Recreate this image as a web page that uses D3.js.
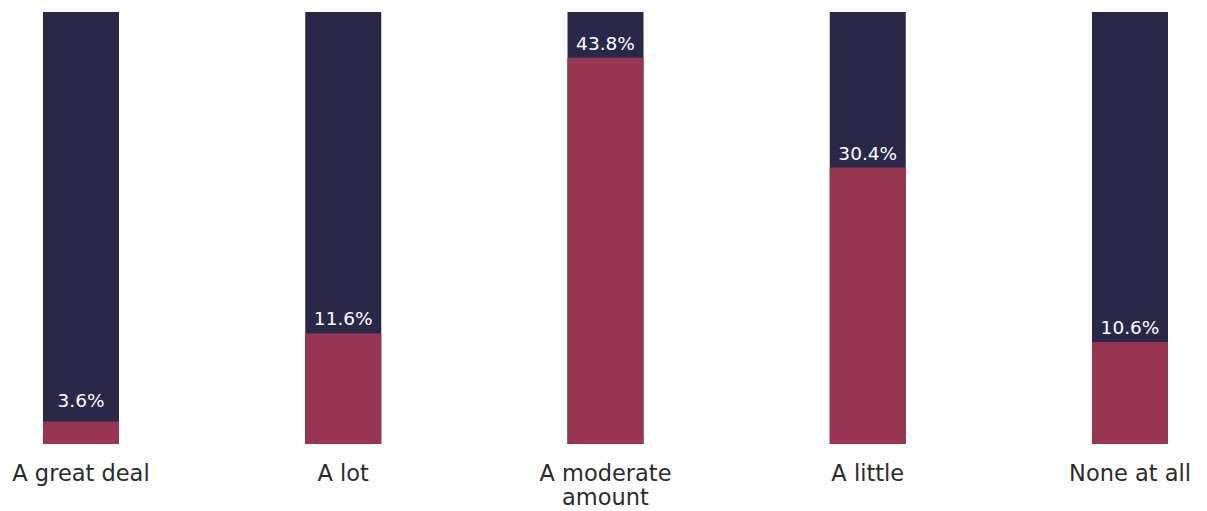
<!DOCTYPE html>
<html>
<head>
<meta charset="utf-8">
<script src="https://cdn.jsdelivr.net/npm/d3@7"></script>
<style>
  html, body { margin: 0; padding: 0; background: #ffffff; }
  svg { display: block; }
</style>
</head>
<body>
<svg id="chart" width="1207" height="511"></svg>
<script>
// ---- data ----
const categories = ["A great deal", "A lot", "A moderate amount", "A little", "None at all"];
const valueLabels = ["3.6%", "11.6%", "43.8%", "30.4%", "10.6%"];
// bar heights, on a 0–50 axis
const barValues = [2.6, 12.8, 44.7, 32.0, 11.8];
const axisMax = 50;

// ---- layout ----
const plotTop = 12, plotBottom = 444;
const barW = 76;
const navy = "#292848", crimson = "#983651";

const svg = d3.select("#chart");

const x = d3.scalePoint().domain(categories).range([81, 1130]);
const y = d3.scaleLinear().domain([0, axisMax]).range([plotBottom, plotTop]);

const g = svg.append("g");

// background bars
g.selectAll("rect.bg").data(categories).join("rect")
  .attr("class", "bg")
  .attr("x", d => x(d) - barW / 2)
  .attr("y", y(axisMax))
  .attr("width", barW)
  .attr("height", y(0) - y(axisMax))
  .attr("fill", navy);

// value bars
g.selectAll("rect.val").data(barValues).join("rect")
  .attr("class", "val")
  .attr("x", (d, i) => x(categories[i]) - barW / 2)
  .attr("y", d => y(d))
  .attr("width", barW)
  .attr("height", d => y(0) - y(d))
  .attr("fill", crimson);

// value labels
g.selectAll("text.vl").data(barValues).join("text")
  .attr("class", "vl")
  .attr("x", (d, i) => x(categories[i]))
  .attr("y", d => Math.min(y(d) - 8, plotBottom - 37))
  .attr("text-anchor", "middle")
  .attr("font-family", "'DejaVu Sans', sans-serif")
  .attr("font-size", 18.5)
  .attr("fill", "#ffffff")
  .text((d, i) => valueLabels[i]);

// category labels (wrap long ones)
const wrapMap = { "A moderate amount": ["A moderate", "amount"] };
const cl = g.selectAll("text.cl").data(categories).join("text")
  .attr("class", "cl")
  .attr("x", d => x(d))
  .attr("y", 481)
  .attr("text-anchor", "middle")
  .attr("font-family", "'DejaVu Sans', sans-serif")
  .attr("font-size", 22.5)
  .attr("fill", "#2b2b2b");
cl.each(function(d) {
  const lines = wrapMap[d] || [d];
  const t = d3.select(this);
  lines.forEach((ln, i) => {
    t.append("tspan").attr("x", x(d)).attr("dy", i === 0 ? 0 : 24).text(ln);
  });
});
</script>
</body>
</html>
